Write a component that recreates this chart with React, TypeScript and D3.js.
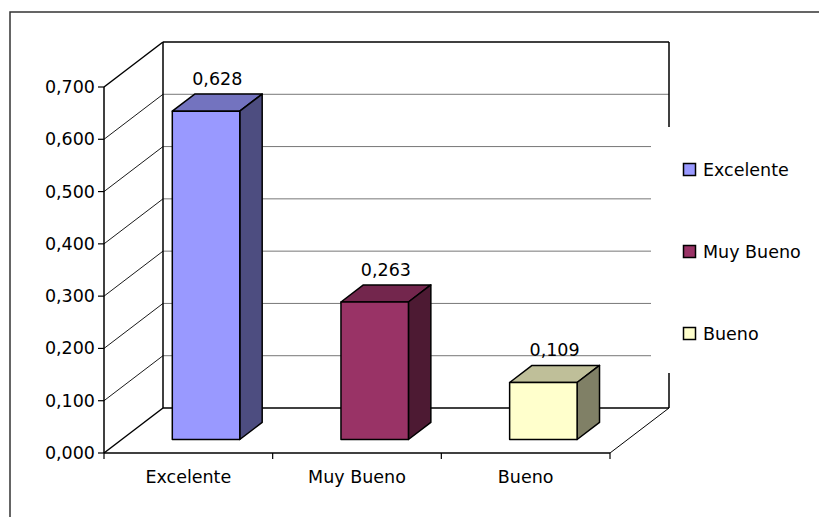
import React from "react";
import * as d3 from "d3";

const categories = ["Excelente", "Muy Bueno", "Bueno"];
const values = [0.628, 0.263, 0.109];
const colors = ["#9999FF", "#993366", "#FFFFCC"];
const yTicks = [0, 0.1, 0.2, 0.3, 0.4, 0.5, 0.6, 0.7];

const FONT = "'DejaVu Sans', Verdana, sans-serif";
const FS = 17.5;

function scaleColor(c: string, k: number) {
  const r = d3.rgb(c);
  return d3.rgb(r.r * k, r.g * k, r.b * k).formatHex();
}

export default function App() {
  const y = d3.scaleLinear().domain([0, 0.7]).range([453, 87]);
  const x = d3.scaleBand().domain(categories).range([104, 610]);
  const DX = 59, DY = -45; // full depth vector
  const fmt = (v: number) => d3.format(".3f")(v).replace(".", ",");
  const x0 = 104, x1 = 610;
  const bw = x.bandwidth();
  const fDepth = 0.3, bDepth = 0.68;

  const bars = categories.map((c, i) => {
    const v = values[i];
    const left = (x(c) as number) + bw * 0.3 + DX * fDepth;
    const right = left + bw * 0.4;
    const bottom = y(0) + DY * fDepth;
    const top = bottom - (y(0) - y(v));
    const ddx = DX * (bDepth - fDepth), ddy = DY * (bDepth - fDepth);
    return { c, v, i, left, right, bottom, top, ddx, ddy };
  });

  return (
    <svg width={819} height={517} style={{ position: "fixed", left: 0, top: 0, background: "#fff" }}>
      <rect x={0} y={0} width={819} height={517} fill="#fff" />
      <rect x={10} y={12} width={830} height={530} fill="none" stroke="#333" strokeWidth={1.5} />

      {/* back wall gridlines */}
      {yTicks.slice(1, 7).map((t) => (
        <line key={"g" + t} x1={x0 + DX} x2={x1 + DX} y1={y(t) + DY} y2={y(t) + DY} stroke="#777" strokeWidth={1} />
      ))}
      {/* left wall diagonals */}
      {yTicks.slice(1, 7).map((t) => (
        <line key={"d" + t} x1={x0} y1={y(t)} x2={x0 + DX} y2={y(t) + DY} stroke="#000" strokeWidth={0.9} />
      ))}
      {/* walls outline */}
      <line x1={x0 + DX} x2={x1 + DX} y1={y(0.7) + DY} y2={y(0.7) + DY} stroke="#000" strokeWidth={1.5} />
      <line x1={x0} y1={y(0.7)} x2={x0 + DX} y2={y(0.7) + DY} stroke="#000" strokeWidth={1.5} />
      <line x1={x0 + DX} x2={x0 + DX} y1={y(0.7) + DY} y2={y(0) + DY} stroke="#000" strokeWidth={1.5} />
      <line x1={x1 + DX} x2={x1 + DX} y1={y(0.7) + DY} y2={y(0) + DY} stroke="#000" strokeWidth={1.5} />
      <line x1={x0 + DX} x2={x1 + DX} y1={y(0) + DY} y2={y(0) + DY} stroke="#000" strokeWidth={1.5} />
      <line x1={x0} y1={y(0)} x2={x0 + DX} y2={y(0) + DY} stroke="#000" strokeWidth={1.5} />
      <line x1={x1} y1={y(0)} x2={x1 + DX} y2={y(0) + DY} stroke="#000" strokeWidth={1} />
      {/* front axes */}
      <line x1={x0} x2={x0} y1={y(0.7)} y2={y(0)} stroke="#000" strokeWidth={1.5} />
      <line x1={x0} x2={x1} y1={y(0)} y2={y(0)} stroke="#000" strokeWidth={1.5} />
      {yTicks.map((t) => (
        <g key={"t" + t}>
          <line x1={x0 - 6} x2={x0} y1={y(t)} y2={y(t)} stroke="#000" strokeWidth={1.2} />
          <text x={x0 - 9} y={y(t) + 6} textAnchor="end" fontFamily={FONT} fontSize={FS} fill="#000">{fmt(t)}</text>
        </g>
      ))}
      {[0, 1, 2, 3].map((k) => (
        <line key={"xt" + k} x1={x0 + bw * k} x2={x0 + bw * k} y1={y(0)} y2={y(0) + 6} stroke="#000" strokeWidth={1.2} />
      ))}
      {categories.map((c) => (
        <text key={"c" + c} x={(x(c) as number) + bw / 2} y={483} textAnchor="middle" fontFamily={FONT} fontSize={FS} fill="#000">{c}</text>
      ))}

      {/* bars */}
      {bars.map((b) => (
        <g key={"b" + b.c} stroke="#000" strokeWidth={1.5} strokeLinejoin="round">
          <polygon
            points={`${b.left},${b.top} ${b.right},${b.top} ${b.right + b.ddx},${b.top + b.ddy} ${b.left + b.ddx},${b.top + b.ddy}`}
            fill={scaleColor(colors[b.i], 0.75)}
          />
          <polygon
            points={`${b.right},${b.top} ${b.right + b.ddx},${b.top + b.ddy} ${b.right + b.ddx},${b.bottom + b.ddy} ${b.right},${b.bottom}`}
            fill={scaleColor(colors[b.i], 0.5)}
          />
          <rect x={b.left} y={b.top} width={b.right - b.left} height={b.bottom - b.top} fill={colors[b.i]} />
          <text x={(b.left + b.right + b.ddx) / 2} y={b.top + b.ddy - 9} textAnchor="middle" fontFamily={FONT} fontSize={FS} fill="#000" stroke="none">{fmt(b.v)}</text>
        </g>
      ))}

      {/* legend */}
      <rect x={651} y={127} width={167} height={246} fill="#fff" />
      {categories.map((c, i) => (
        <g key={"l" + c}>
          <rect x={683.5} y={163.5 + i * 82} width={12} height={12} fill={colors[i]} stroke="#000" strokeWidth={1.5} />
          <text x={703} y={176 + i * 82} fontFamily={FONT} fontSize={FS} fill="#000">{c}</text>
        </g>
      ))}
    </svg>
  );
}
